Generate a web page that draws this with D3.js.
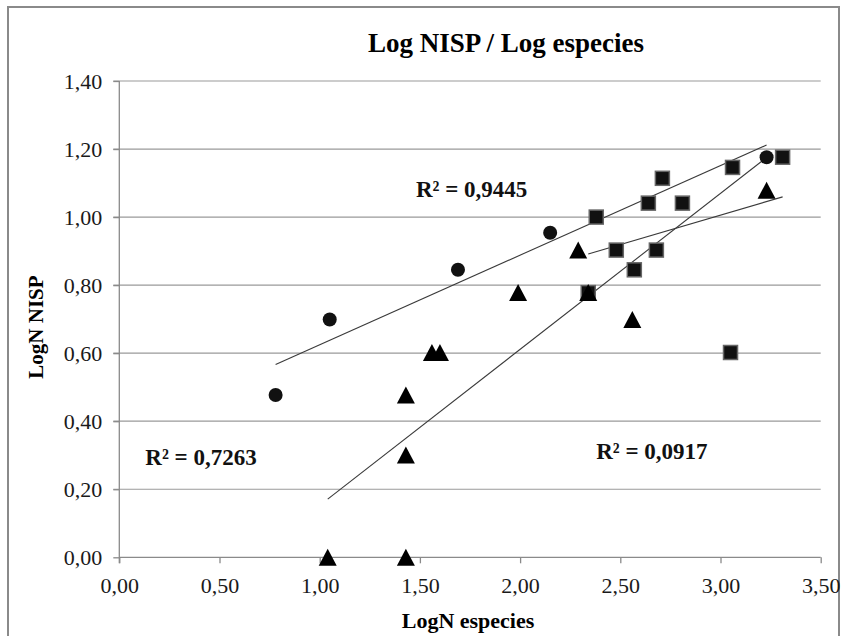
<!DOCTYPE html>
<html><head><meta charset="utf-8">
<script src="https://cdn.jsdelivr.net/npm/d3@7"></script>
<style>html,body{margin:0;padding:0;background:#fff;}svg{display:block;}</style>
</head><body>
<svg id="c" width="846" height="636"></svg>
<script>
const titleText = "Log NISP / Log especies";
const xTitle = "LogN especies";
const yTitle = "LogN NISP";
const xTicks = [0, 0.5, 1.0, 1.5, 2.0, 2.5, 3.0, 3.5];
const yTicks = [0, 0.2, 0.4, 0.6, 0.8, 1.0, 1.2, 1.4];
const circles = [[0.78,0.477],[1.05,0.699],[1.69,0.845],[2.15,0.954],[3.23,1.176]];
const squares = [[2.34,0.778],[2.38,1.0],[2.48,0.903],[2.57,0.845],[2.64,1.041],[2.68,0.903],[2.71,1.114],[2.81,1.041],[3.05,0.602],[3.06,1.146],[3.31,1.176]];
const triangles = [[1.04,0],[1.43,0],[1.43,0.301],[1.43,0.477],[1.56,0.602],[1.60,0.602],[1.99,0.778],[2.29,0.903],[2.34,0.778],[2.56,0.699],[3.23,1.079]];
const r2Labels = ["R² = 0,9445", "R² = 0,7263", "R² = 0,0917"];
const r2Pos = [[1.48, 1.06], [0.13, 0.27], [2.38, 0.29]]; // data-space anchors for labels

const svg = d3.select("#c");
const serif = "'Liberation Serif','Times New Roman',serif";
const x = d3.scaleLinear().domain([0, 3.5]).range([119.3, 820.7]);
const y = d3.scaleLinear().domain([0, 1.4]).range([557.3, 81]);
const fmt = v => d3.format(".2f")(v).replace(".", ",");

// outer frame
svg.append("rect").attr("x", 8).attr("y", 7).attr("width", 831).attr("height", 700)
  .attr("fill", "none").attr("stroke", "#8a8a8a").attr("stroke-width", 2);

// gridlines
svg.append("g").selectAll("line").data(yTicks.filter(d => d > 0)).join("line")
  .attr("x1", x(0) - 6).attr("x2", x(3.5))
  .attr("y1", d => y(d)).attr("y2", d => y(d))
  .attr("stroke", "#9a9a9a").attr("stroke-width", 1.2);

// axes
const ya = svg.append("g").attr("transform", `translate(${x(0)},0)`)
  .call(d3.axisLeft(y).tickValues(yTicks).tickFormat(fmt).tickSize(6).tickPadding(11));
const xa = svg.append("g").attr("transform", `translate(0,${y(0)})`)
  .call(d3.axisBottom(x).tickValues(xTicks).tickFormat(fmt).tickSize(6).tickPadding(14));
[ya, xa].forEach(g => {
  g.select(".domain").attr("stroke", "#8a8a8a").attr("stroke-width", 1.3);
  g.selectAll(".tick line").attr("stroke", "#8a8a8a").attr("stroke-width", 1.3);
  g.selectAll(".tick text").attr("font-family", serif).attr("font-size", 22).attr("fill", "#1a1a1a");
});
xa.select(".domain").attr("d", `M${x(0)},0H${x(3.5)}`);
ya.select(".domain").attr("d", `M0,${y(1.4)}V${y(0)+6}`);

// trendlines
function fit(pts) {
  const mx = d3.mean(pts, d => d[0]), my = d3.mean(pts, d => d[1]);
  const sxy = d3.sum(pts, d => (d[0]-mx)*(d[1]-my)), sxx = d3.sum(pts, d => (d[0]-mx)**2);
  const b = sxy / sxx, a = my - b*mx;
  const [x0, x1] = d3.extent(pts, d => d[0]);
  return [[x0, a + b*x0], [x1, a + b*x1]];
}
const line = d3.line().x(d => x(d[0])).y(d => y(d[1]));
[circles, squares, triangles].forEach(s => {
  svg.append("path").attr("d", line(fit(s))).attr("fill", "none")
    .attr("stroke", "#3a3a3a").attr("stroke-width", 1.1);
});

// markers
svg.append("g").selectAll("circle").data(circles).join("circle")
  .attr("cx", d => x(d[0])).attr("cy", d => y(d[1])).attr("r", 7).attr("fill", "#111");
svg.append("g").selectAll("rect").data(squares).join("rect")
  .attr("x", d => x(d[0]) - 7).attr("y", d => y(d[1]) - 7).attr("width", 14).attr("height", 14)
  .attr("fill", "#111").attr("stroke", "#666").attr("stroke-width", 1.5);
svg.append("g").selectAll("path").data(triangles).join("path")
  .attr("transform", d => `translate(${x(d[0])},${y(d[1])})`)
  .attr("d", "M0,-8.5L9,8.5L-9,8.5Z").attr("fill", "#000");

// R² labels
svg.append("g").selectAll("text").data(r2Labels).join("text")
  .attr("x", (d, i) => x(r2Pos[i][0])).attr("y", (d, i) => y(r2Pos[i][1]))
  .attr("font-family", serif).attr("font-size", 23).attr("font-weight", "bold").attr("fill", "#111")
  .text(d => d);

// titles
svg.append("text").attr("x", 506).attr("y", 52).attr("text-anchor", "middle")
  .attr("font-family", serif).attr("font-size", 27).attr("font-weight", "bold").text(titleText);
svg.append("text").attr("x", 468).attr("y", 628).attr("text-anchor", "middle")
  .attr("font-family", serif).attr("font-size", 22).attr("font-weight", "bold").text(xTitle);
svg.append("text").attr("transform", "translate(43,327) rotate(-90)").attr("text-anchor", "middle")
  .attr("font-family", serif).attr("font-size", 21).attr("font-weight", "bold").text(yTitle);
</script>
</body></html>
